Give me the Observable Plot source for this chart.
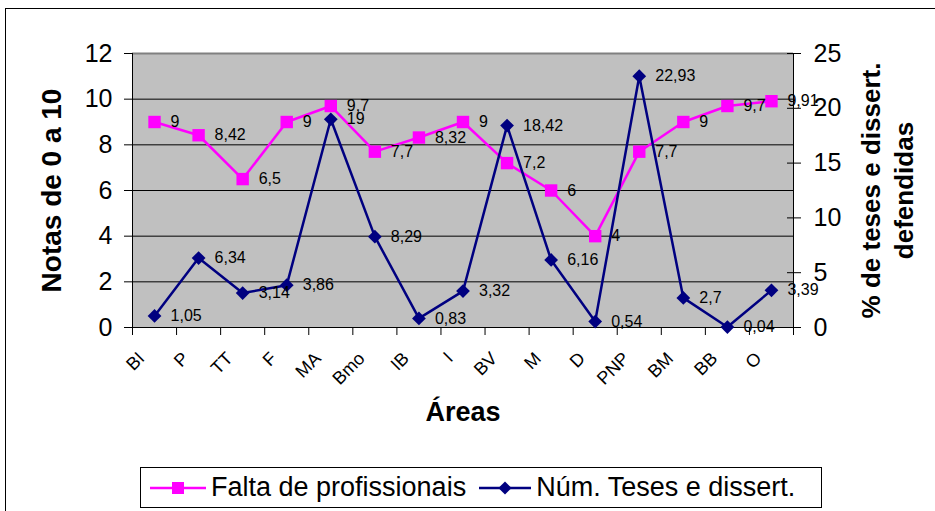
<!DOCTYPE html>
<html><head><meta charset="utf-8">
<script src="https://cdn.jsdelivr.net/npm/d3@7"></script>
<script src="https://cdn.jsdelivr.net/npm/@observablehq/plot@0.6"></script>
<style>
body{margin:0;background:#fff;font-family:"Liberation Sans",Arial,sans-serif;}
#wrap{position:relative;width:935px;height:511px;overflow:hidden;background:#fff;}
#frame{position:absolute;left:5px;top:8px;width:940px;height:520px;border:1px solid #000;box-sizing:border-box;}
#chart{position:absolute;left:0;top:0;}
#legend{position:absolute;left:140px;top:467px;width:682px;height:41px;border:1px solid #000;box-sizing:border-box;background:#fff;display:flex;align-items:center;font-size:27px;white-space:nowrap;color:#000;}
#legend .item{display:inline-flex;align-items:center;}
</style></head><body>
<div id="wrap"><div id="frame"></div><div id="chart"></div><div id="legend"></div></div>
<script>
const areas = ["BI","P","TT","F","MA","Bmo","IB","I","BV","M","D","PNP","BM","BB","O"];
const faltaProfissionais = [9, 8.42, 6.5, 9, 9.7, 7.7, 8.32, 9, 7.2, 6, 4, 7.7, 9, 9.7, 9.91];
const numTeses = [1.05, 6.34, 3.14, 3.86, 19, 8.29, 0.83, 3.32, 18.42, 6.16, 0.54, 22.93, 2.7, 0.04, 3.39];
const leftTicks = [0, 2, 4, 6, 8, 10, 12];
const rightTicks = [0, 5, 10, 15, 20, 25];
const gridValues = [2, 4, 6, 8, 10];
const leftMax = 12, rightMax = 25;
const seriesNames = ["Falta de profissionais", "Núm. Teses e dissert."];
const seriesColors = ["#FF00FF", "#000080"];

const toLeft = v => v * leftMax / rightMax;
const fmt = v => String(v).replace(".", ",");
const rowsF = areas.map((a, i) => ({i, a, v: faltaProfissionais[i], y: faltaProfissionais[i]}));
const rowsN = areas.map((a, i) => ({i, a, v: numTeses[i], y: toLeft(numTeses[i])}));
const bounds = d3.range(areas.length + 1).map(k => k - 0.5);
const font = "'Liberation Sans', Arial, sans-serif";
const W = 935, H = 460, ML = 132, MR = 142, MT = 53, MB = 133;
const frameW = W - ML - MR;

const chart = Plot.plot({
  width: W, height: H,
  marginLeft: ML, marginRight: MR, marginTop: MT, marginBottom: MB,
  style: {fontFamily: font, background: "transparent", color: "#000", overflow: "visible"},
  x: {type: "linear", domain: [-0.5, areas.length - 0.5]},
  y: {domain: [0, leftMax]},
  marks: [
    Plot.frame({fill: "#C0C0C0", stroke: "none"}),
    Plot.ruleY(gridValues, {stroke: "#000", strokeWidth: 1}),
    Plot.ruleY([leftMax], {stroke: "#808080", strokeWidth: 2}),
    Plot.ruleY([0], {stroke: "#000", strokeWidth: 1}),
    Plot.ruleX([-0.5, areas.length - 0.5], {stroke: "#000", strokeWidth: 1}),
    Plot.axisX({ticks: bounds, tickSize: 8, fill: "none", label: null, stroke: "#000"}),
    Plot.text(rowsF, {x: "i", y: () => 0, text: "a", rotate: -45, textAnchor: "end", lineAnchor: "middle", dx: -13, dy: 28, fontSize: 18, fill: "#000"}),
    Plot.axisY({ticks: leftTicks, tickSize: 8, tickPadding: 12, fontSize: 25, label: null, stroke: "#000", fill: "#000"}),
    Plot.axisY({anchor: "right", ticks: rightTicks.map(toLeft), tickSize: 7, fill: "none", label: null, stroke: "#000"}),
    Plot.tickY(rightTicks.map(toLeft), {insetLeft: frameW - 6, stroke: "#000"}),
    Plot.axisY({anchor: "right", ticks: rightTicks.map(toLeft), tickFormat: v => Math.round(v * rightMax / leftMax), tickSize: 0, tickPadding: 20, fontSize: 25, label: null, fill: "#000"}),
    Plot.line(rowsF, {x: "i", y: "y", stroke: seriesColors[0], strokeWidth: 2.5}),
    Plot.dot(rowsF, {x: "i", y: "y", symbol: "square", r: 7, fill: seriesColors[0], stroke: "none"}),
    Plot.line(rowsN, {x: "i", y: "y", stroke: seriesColors[1], strokeWidth: 2.5}),
    Plot.dot(rowsN, {x: "i", y: "y", symbol: "diamond2", r: 6.2, fill: seriesColors[1], stroke: "none"}),
    Plot.text(rowsF, {x: "i", y: "y", text: d => fmt(d.v), dx: 16, textAnchor: "start", fontSize: 16, fill: "#000"}),
    Plot.text(rowsN, {x: "i", y: "y", text: d => fmt(d.v), dx: 16, textAnchor: "start", fontSize: 16, fill: "#000"}),
    Plot.text(["Notas de 0 a 10"], {frameAnchor: "left", textAnchor: "middle", rotate: -90, dx: -80, fontSize: 28, fontWeight: "bold", fill: "#000"}),
    Plot.text(["% de teses e dissert.\ndefendidas"], {frameAnchor: "right", textAnchor: "middle", rotate: -90, dx: 92, fontSize: 26, fontWeight: "bold", lineHeight: 1.27, fill: "#000"}),
    Plot.text(["Áreas"], {frameAnchor: "bottom", dy: 93, fontSize: 27, fontWeight: "bold", fill: "#000"})
  ]
});
document.getElementById("chart").appendChild(chart);

const legend = document.getElementById("legend");
const swatch = (color, k) => {
  const ns = "http://www.w3.org/2000/svg";
  const w = k === 0 ? 56 : 52;
  const svg = document.createElementNS(ns, "svg");
  svg.setAttribute("width", w); svg.setAttribute("height", 20);
  const ln = document.createElementNS(ns, "line");
  ln.setAttribute("x1", 0); ln.setAttribute("x2", w); ln.setAttribute("y1", 10); ln.setAttribute("y2", 10);
  ln.setAttribute("stroke", color); ln.setAttribute("stroke-width", 2.5);
  svg.appendChild(ln);
  const p = document.createElementNS(ns, "path");
  p.setAttribute("transform", `translate(${w / 2},10)`);
  p.setAttribute("d", d3.symbol(k === 0 ? d3.symbolSquare : d3.symbolDiamond2, k === 0 ? 144 : 110)());
  p.setAttribute("fill", color);
  svg.appendChild(p);
  return svg;
};
seriesNames.forEach((name, k) => {
  const item = document.createElement("span");
  item.className = "item";
  item.style.marginLeft = k === 0 ? "9px" : "13px";
  item.appendChild(swatch(seriesColors[k], k));
  const t = document.createElement("span");
  t.textContent = name;
  t.style.marginLeft = "5px";
  item.appendChild(t);
  legend.appendChild(item);
});
</script>
</body></html>
